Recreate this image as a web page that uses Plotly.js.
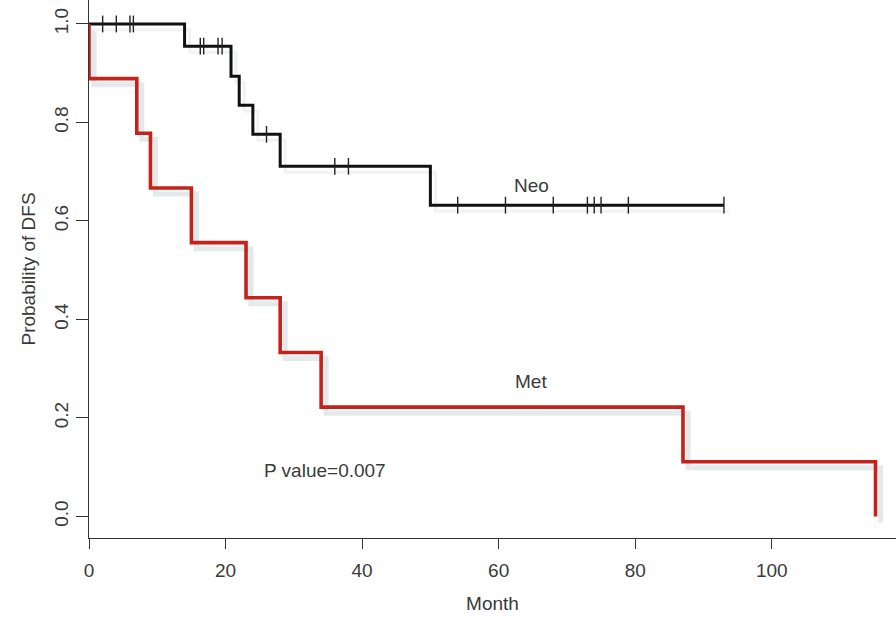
<!DOCTYPE html>
<html>
<head>
<meta charset="utf-8">
<script src="https://cdn.plot.ly/plotly-3.0.1.min.js"></script>
<style>html,body{margin:0;padding:0;background:#fff;}#chart{width:896px;height:621px;}</style>
</head>
<body>
<div id="chart"></div>
<script>
// Kaplan-Meier step data
var neoTime = [0, 14, 20.8, 22, 24, 28, 50, 93];
var neoSurv = [1.0, 0.955, 0.894, 0.835, 0.776, 0.711, 0.632, 0.632];
var neoCensor = [2, 4, 6, 6.5, 16.3, 16.8, 18.9, 19.5, 26, 36, 38, 54, 61, 68, 73, 74, 75, 79, 93];

var metTime = [0, 0, 7, 9, 15, 23, 28, 34, 87, 115.2, 115.2];
var metSurv = [1.0, 0.889, 0.778, 0.667, 0.556, 0.444, 0.333, 0.222, 0.111, 0.111, 0.0];

var xTicks = [0, 20, 40, 60, 80, 100];
var yTicks = [0.0, 0.2, 0.4, 0.6, 0.8, 1.0];

var labels = [
  {text: 'Neo', x: 64.8, y: 0.672},
  {text: 'Met', x: 64.8, y: 0.274},
  {text: 'P value=0.007', x: 34.6, y: 0.093}
];

function stepAt(times, surv, t) {
  var v = surv[0];
  for (var i = 0; i < times.length; i++) { if (times[i] <= t) v = surv[i]; }
  return v;
}
var neoCensorSurv = neoCensor.map(function (t) { return stepAt(neoTime, neoSurv, t); });

// plot geometry
var xr = [0, 118.2];
var yr = [-0.0437, 1.0487];
var pxPerX = 807 / (xr[1] - xr[0]);
var pxPerY = 538 / (yr[1] - yr[0]);
var sdx = 5, sdy = 6; // shadow offset in px
var xrS = [xr[0] - sdx / pxPerX, xr[1] - sdx / pxPerX];
var yrS = [yr[0] + sdy / pxPerY, yr[1] + sdy / pxPerY];

var font = {family: 'Liberation Sans, Arial, sans-serif', size: 19, color: '#3a3a3a'};

var traces = [
  // shadows (base axes, shifted)
  {x: metTime, y: metSurv, mode: 'lines', line: {shape: 'hv', color: '#e4eaeb', width: 5}, xaxis: 'x', yaxis: 'y', hoverinfo: 'skip', showlegend: false},
  {x: neoTime, y: neoSurv, mode: 'lines', line: {shape: 'hv', color: '#f1f3f3', width: 3}, xaxis: 'x', yaxis: 'y', hoverinfo: 'skip', showlegend: false},
  // main curves
  {x: neoTime, y: neoSurv, mode: 'lines', line: {shape: 'hv', color: '#111111', width: 3}, xaxis: 'x2', yaxis: 'y2', name: 'Neo', showlegend: false},
  {x: neoCensor, y: neoCensorSurv, mode: 'markers', marker: {symbol: 'line-ns', size: 12, line: {color: '#222', width: 1.4}}, xaxis: 'x2', yaxis: 'y2', showlegend: false},
  {x: metTime, y: metSurv, mode: 'lines', line: {shape: 'hv', color: '#c4231b', width: 3.6}, xaxis: 'x2', yaxis: 'y2', name: 'Met', showlegend: false}
];

var layout = {
  width: 896, height: 621,
  margin: {l: 89, r: 0, t: 0, b: 83, pad: 0},
  paper_bgcolor: '#fff', plot_bgcolor: '#fff',
  font: font,
  showlegend: false,
  xaxis: {range: xrS, visible: false, fixedrange: true},
  yaxis: {range: yrS, visible: false, fixedrange: true},
  xaxis2: {
    overlaying: 'x', anchor: 'y2', side: 'bottom', range: xr,
    tickmode: 'array', tickvals: xTicks, ticktext: xTicks.map(String),
    ticks: 'outside', ticklen: 10, tickwidth: 1, tickcolor: '#333', ticklabelstandoff: 5,
    showline: true, linecolor: '#333', linewidth: 1, mirror: false,
    showgrid: false, zeroline: false, tickfont: font,
    title: {text: 'Month', font: font, standoff: 16}
  },
  yaxis2: {
    overlaying: 'y', anchor: 'x2', side: 'left', range: yr,
    tickmode: 'array', tickvals: yTicks, ticktext: yTicks.map(function (v) { return v.toFixed(1); }),
    ticks: 'outside', ticklen: 12, tickwidth: 1, tickcolor: '#333', tickangle: -90,
    showline: true, linecolor: '#333', linewidth: 1,
    showgrid: false, zeroline: false, tickfont: font,
    title: {text: 'Probability of DFS', font: {family: font.family, size: 19, color: '#3a3a3a'}, standoff: 10}
  },
  annotations: labels.map(function (l) {
    return {text: l.text, x: l.x, y: l.y, xref: 'x2', yref: 'y2', showarrow: false,
            xanchor: 'center', yanchor: 'middle', font: font};
  })
};

Plotly.newPlot('chart', traces, layout, {staticPlot: true, displayModeBar: false});
</script>
</body>
</html>
